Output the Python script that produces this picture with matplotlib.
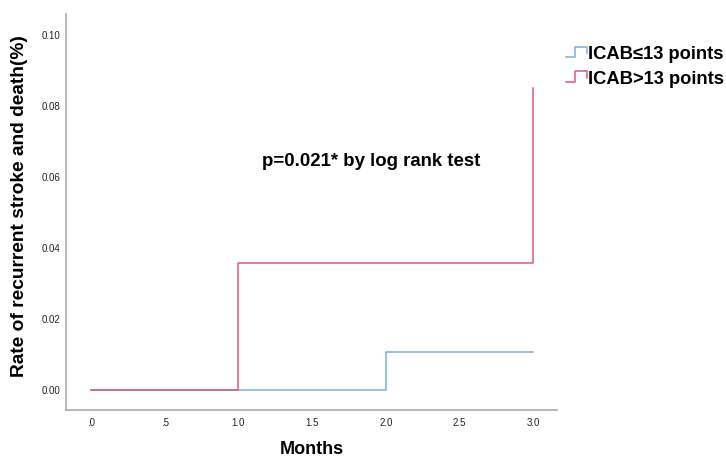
import matplotlib
matplotlib.use("Agg")
import matplotlib.pyplot as plt
from matplotlib.lines import Line2D
from matplotlib.legend_handler import HandlerBase

plt.rcParams["font.family"] = ["Liberation Sans", "DejaVu Sans"]

# Data
low_times = [0.0, 2.0, 3.0]
low_rates = [0.0, 0.0108, 0.0108]
high_times = [0.0, 1.0, 3.0, 3.0]
high_rates = [0.0, 0.0357, 0.0357, 0.085]
xticks = [0.0, 0.5, 1.0, 1.5, 2.0, 2.5, 3.0]
xticklabels = [".0", ".5", "1.0", "1.5", "2.0", "2.5", "3.0"]
yticks = [0.00, 0.02, 0.04, 0.06, 0.08, 0.10]
yticklabels = ["0.00", "0.02", "0.04", "0.06", "0.08", "0.10"]
labels = ["ICAB\u226413 points", "ICAB>13 points"]
colors = ["#7aaee0", "#e2557f"]

fig = plt.figure(figsize=(7.26, 4.57), dpi=100)
ax = fig.add_axes([0.0909, 0.1028, 0.767 - 0.0909, 0.969 - 0.1028])

ax.step(low_times, low_rates, where="post", color=colors[0], lw=1.1)
ax.step(high_times, high_rates, where="post", color=colors[1], lw=1.1)

ax.set_xlim(-0.17, 3.16)
ax.set_ylim(-0.0056, 0.1059)
ax.set_xticks(xticks)
ax.set_xticklabels(xticklabels)
ax.set_yticks(yticks)
ax.set_yticklabels(yticklabels)
ax.tick_params(length=0, labelsize=7, labelcolor="#222222")
ax.tick_params(axis="x", pad=6)
ax.tick_params(axis="y", pad=4)
for s in ["top", "right"]:
    ax.spines[s].set_visible(False)
for s in ["left", "bottom"]:
    ax.spines[s].set_color("#aaaaaa")
    ax.spines[s].set_linewidth(1.2)

ax.set_xlabel("Months", fontsize=13, fontweight="bold", labelpad=9)
ax.set_ylabel("Rate of recurrent stroke and death(%)", fontsize=13.8, fontweight="bold", labelpad=10)
ax.yaxis.label.set_y(0.516)

ax.text(1.16, 0.0645, "p=0.021* by log rank test", fontsize=13.4, fontweight="bold", va="center", ha="left")


class StepHandler(HandlerBase):
    def create_artists(self, legend, orig_handle, xdescent, ydescent, width, height, fontsize, trans):
        x0, x1 = -xdescent, -xdescent + width
        y0, y1 = -ydescent + height * 0.15, -ydescent + height * 0.95
        xm = x0 + width * 0.45
        line = Line2D([x0, xm, xm, x1, x1], [y0, y0, y1, y1, y0 + height * 0.3],
                      color=orig_handle.get_color(), lw=1.1, transform=trans)
        return [line]


handles = [Line2D([], [], color=c) for c in colors]
leg = fig.legend(handles, labels, loc="upper left", bbox_to_anchor=(0.77, 0.915),
                 frameon=False, handler_map={Line2D: StepHandler()},
                 prop={"size": 13.2, "weight": "bold"}, handlelength=1.1,
                 handletextpad=0.1, labelspacing=0.4, borderaxespad=0)

fig.savefig("out.png", dpi=100)
